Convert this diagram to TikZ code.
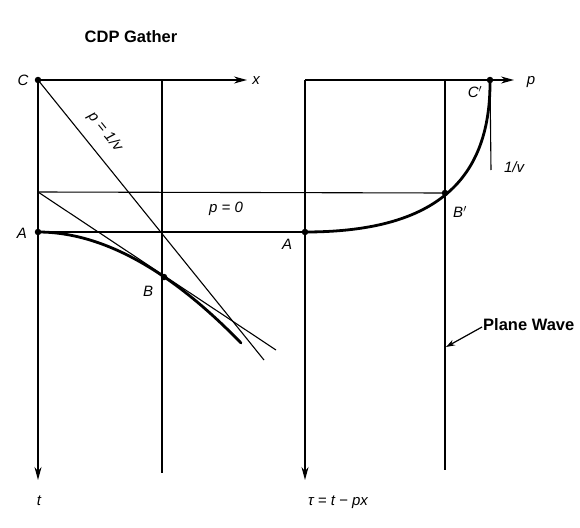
\documentclass[tikz,border=0pt]{standalone}
\usepackage{fontspec}
\setmainfont{Liberation Sans}
\usetikzlibrary{arrows.meta}
\begin{document}
\begin{tikzpicture}[x=1pt,y=-1pt,
  thinline/.style={line width=1.1pt},
  midline/.style={line width=1.6pt},
  axisline/.style={line width=1.3pt,-{Stealth[length=13pt,width=7pt]}},
  curveline/.style={line width=2.8pt,line cap=round},
  dot/.style={circle,fill=black,inner sep=0pt,minimum size=6.5pt},
  lbl/.style={font=\fontsize{15}{18}\selectfont\itshape,inner sep=1pt},
  titlelbl/.style={font=\fontsize{16.5}{19}\selectfont\bfseries,inner sep=1pt}]
\path[use as bounding box] (0,0) rectangle (580,527);
% coordinates
\coordinate (C) at (38,80);
\coordinate (xtip) at (247,80);
\coordinate (ttip) at (38,480);
\coordinate (V1top) at (162,80);
\coordinate (V1bot) at (162,473);
\coordinate (H1a) at (38,192);
\coordinate (Bp) at (445,193);
\coordinate (A) at (38,232);
\coordinate (A2) at (305,232);
\coordinate (P1end) at (264,360);
\coordinate (Tend) at (276,350);
\coordinate (B) at (164,277);
\coordinate (Cend) at (241,343);
\coordinate (R1top) at (305,80);
\coordinate (Cp) at (490,80);
\coordinate (ptip) at (514,80);
\coordinate (tautip) at (305,480);
\coordinate (V2top) at (445,80);
\coordinate (V2bot) at (445,470);
\coordinate (vend) at (491,170);
\coordinate (PWtip) at (446,347);
% left panel
\draw[axisline] (C) -- (xtip);
\draw[axisline] (C) -- (ttip);
\draw[thinline] (V1top) -- (V1bot);
\draw[thinline] (H1a) -- (Bp);
\draw[midline] (A) -- (A2);
\draw[thinline] (C) -- (P1end);
\draw[thinline] (H1a) -- (Tend);
\draw[curveline] (A) .. controls (110,232) and (180,280) .. (Cend);
% right panel
\draw[thinline] (R1top) -- (Cp);
\draw[axisline] (Cp) -- (ptip);
\draw[axisline] (A2) -- (tautip);
\draw[thinline] (R1top) -- (A2);
\draw[thinline] (V2top) -- (V2bot);
\draw[thinline] (Cp) -- (vend);
\draw[curveline] (A2) .. controls (430,232) and (491,185) .. (Cp);
% dots
\node[dot] (dC) at (C) {};
\node[dot] (dA) at (A) {};
\node[dot] (dB) at (B) {};
\node[dot] (dA2) at (A2) {};
\node[dot] (dBp) at (Bp) {};
\node[dot] (dCp) at (Cp) {};
% labels
\node[titlelbl] (title) at (131,37) {CDP Gather};
\node[lbl] (lC) at (23,80) {C};
\node[lbl] (lx) at (256,81) {x};
\node[lbl] (lA) at (22,233) {A};
\node[lbl] (lB) at (148,291) {B};
\node[lbl] (lt) at (39,501) {t};
\node[lbl,rotate=-50.8] (lp1v) at (105,132) {p = 1/v};
\node[lbl] (lp0) at (226,209) {p = 0};
\node[lbl] (lA2) at (287,244) {A};
\node[lbl] (lCp) at (475,92) {C$'$};
\node[lbl] (lBp) at (460,212) {B$'$};
\node[lbl] (l1v) at (514,167) {1/v};
\node[lbl] (lp) at (531,82) {p};
\node[lbl] (ltau) at (338,502) {τ = t − px};
\node[titlelbl,anchor=west] (PW) at (482,325) {Plane Wave};
\draw[line width=1.2pt,-{Stealth[length=9pt,width=6pt]}] ([yshift=-2pt]PW.west) -- (PWtip);
\end{tikzpicture}
\end{document}
